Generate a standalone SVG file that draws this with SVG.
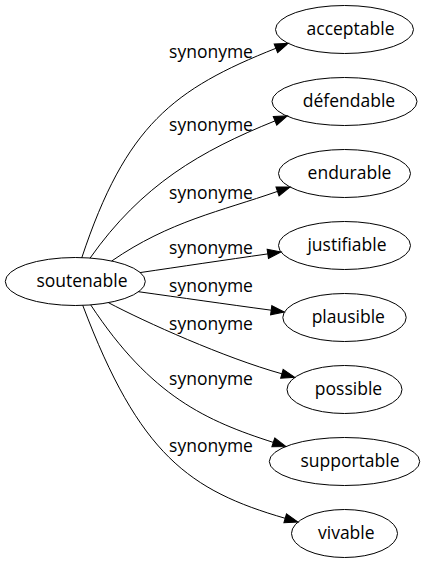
<svg xmlns="http://www.w3.org/2000/svg" width="425" height="563" viewBox="0 0 425 563">
<style>
.n ellipse{fill:none;stroke:#000;stroke-width:1}
text{font-family:"Open Sans","Noto Sans","DejaVu Sans",sans-serif;font-size:17.5px;fill:#000;text-anchor:middle}
.e path{fill:none;stroke:#000;stroke-width:1;marker-end:url(#ah)}
</style>
<defs>
<marker id="ah" markerUnits="userSpaceOnUse" markerWidth="14" markerHeight="10" refX="0" refY="4.67" orient="auto" overflow="visible">
<path d="M0,0 L13.3,4.67 L0,9.33 z" fill="#000" stroke="#000" stroke-width="1"/>
</marker>
</defs>
<g id="edges" class="e">
<path d="M81.7,258 C125.8,125.1 173.6,89 275.9,48.3"/>
<path d="M90,258.2 C141.8,184.7 200.8,150.8 275,120.9"/>
<path d="M111.7,261 C169.3,221.2 221.1,211.2 277.5,191.4"/>
<path d="M140,272.6 C180,266.7 225,260 267.8,253.9"/>
<path d="M138.3,291.7 C180,297.5 225,304 271.2,310.2"/>
<path d="M108.3,302.6 C145,322 225,358 281.9,373.8"/>
<path d="M90.7,304.9 C151.2,396.7 206.7,421 273.3,442.4"/>
<path d="M82.7,305.2 C139.2,454.8 189.2,490.5 285.2,518.3"/>
</g>
<g id="labels">
<text x="211" y="57.7">synonyme</text>
<text x="211" y="131.4">synonyme</text>
<text x="211" y="198.6">synonyme</text>
<text x="211" y="254.3">synonyme</text>
<text x="211" y="292">synonyme</text>
<text x="211" y="330">synonyme</text>
<text x="211" y="385.4">synonyme</text>
<text x="211" y="451.9">synonyme</text>
</g>
<g id="soutenable" class="n"><ellipse cx="75.3" cy="281.5" rx="70" ry="24"/><text x="82" y="287.1">soutenable</text></g>
<g id="acceptable" class="n"><ellipse cx="344.5" cy="29.5" rx="69" ry="24"/><text x="350.5" y="35.1">acceptable</text></g>
<g id="defendable" class="n"><ellipse cx="344.5" cy="101.5" rx="72.5" ry="24"/><text x="349" y="107.1">défendable</text></g>
<g id="endurable" class="n"><ellipse cx="344.5" cy="173.5" rx="66" ry="24"/><text x="349.5" y="179.1">endurable</text></g>
<g id="justifiable" class="n"><ellipse cx="344.5" cy="245.5" rx="66" ry="24"/><text x="347" y="251.1">justifiable</text></g>
<g id="plausible" class="n"><ellipse cx="344.5" cy="317.5" rx="61.7" ry="24"/><text x="348.3" y="323.1">plausible</text></g>
<g id="possible" class="n"><ellipse cx="344.5" cy="389.5" rx="57.5" ry="24"/><text x="348.5" y="395.1">possible</text></g>
<g id="supportable" class="n"><ellipse cx="344.5" cy="461.5" rx="75.2" ry="24"/><text x="350" y="467.1">supportable</text></g>
<g id="vivable" class="n"><ellipse cx="344.5" cy="533.5" rx="53" ry="24"/><text x="346.3" y="539.1">vivable</text></g>
</svg>
